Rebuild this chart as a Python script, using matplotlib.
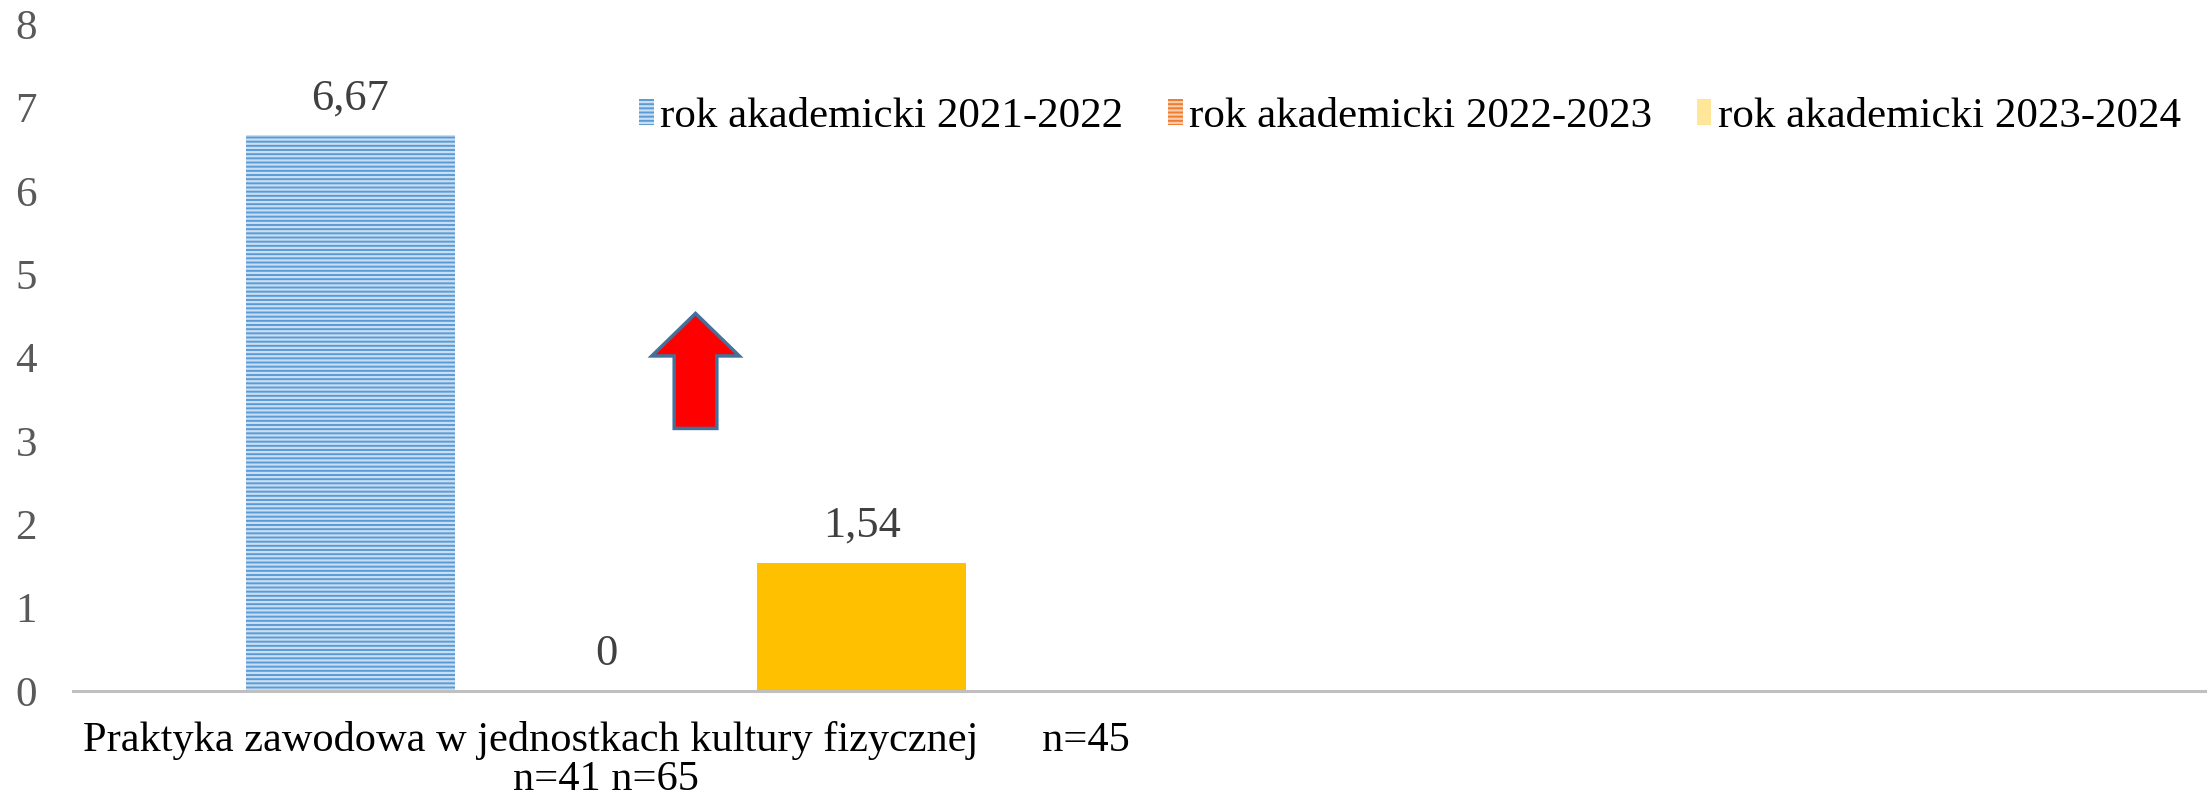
import numpy as np
import matplotlib
matplotlib.use('Agg')
import matplotlib.pyplot as plt
from matplotlib.patches import Patch

plt.rcParams['font.family'] = ['Liberation Serif', 'DejaVu Serif']
plt.rcParams['hatch.linewidth'] = 1.6

# Data
categories = ['Praktyka zawodowa w jednostkach kultury fizycznej      n=45\nn=41 n=65', '']
series = ['rok akademicki 2021-2022', 'rok akademicki 2022-2023', 'rok akademicki 2023-2024']
val_2021 = [6.67]
val_2022 = [0]
val_2023 = [1.54]
y_ticks = [0, 1, 2, 3, 4, 5, 6, 7, 8]

fig = plt.figure(figsize=(22.12, 8.1), dpi=100)
ax = fig.add_axes([0.033, 0.147, 0.9638, 0.823])

x = np.arange(len(val_2021))
w = 0.196
step = 0.24

b1 = ax.bar(x - step, val_2021, w, color='#5B9BD5', edgecolor='#C9DEF2', hatch='----', linewidth=0)
b2 = ax.bar(x, val_2022, w, color='#ED7D31', edgecolor='#F8CBAD', hatch='----', linewidth=0)
b3 = ax.bar(x + step, val_2023, w, color='#FFC000', linewidth=0)

fmt = lambda v: '{:g}'.format(v).replace('.', ',')
for b in (b1, b2, b3):
    ax.bar_label(b, labels=[fmt(v) for v in b.datavalues], padding=12, fontsize=32, color='#404040')

# red arrow annotation
ax.arrow(0.084, 3.15, 0, 1.38, width=0.040, head_width=0.082, head_length=0.51,
         length_includes_head=True, facecolor='#FF0000', edgecolor='#41719C', linewidth=2.5)

ax.set_xlim(-0.5, 1.5)
ax.set_ylim(0, 8)
ax.set_xticks(np.arange(len(categories)))
ax.set_xticklabels(categories, fontsize=30.5, color='#000000', linespacing=1.0)
ax.set_yticks(y_ticks)
ax.set_yticklabels([str(t) for t in y_ticks], fontsize=31, color='#595959')
ax.tick_params(axis='both', length=0)
ax.tick_params(axis='y', pad=26)
ax.tick_params(axis='x', pad=22)

for s in ['top', 'right', 'left']:
    ax.spines[s].set_visible(False)
ax.spines['bottom'].set_color('#BFBFBF')
ax.spines['bottom'].set_linewidth(2.2)

handles = [
    Patch(facecolor='#5B9BD5', edgecolor='#C9DEF2', hatch='----', linewidth=0),
    Patch(facecolor='#ED7D31', edgecolor='#F8CBAD', hatch='----', linewidth=0),
    Patch(facecolor='#FFE699', linewidth=0),
]
fig.legend(handles, series, loc='center', bbox_to_anchor=(0.6375, 0.8556), ncol=3,
           frameon=False, fontsize=31, handlelength=0.33, handleheight=0.55,
           handletextpad=0.15, columnspacing=1.05, borderpad=0)

fig.savefig('out.png', dpi=100)
